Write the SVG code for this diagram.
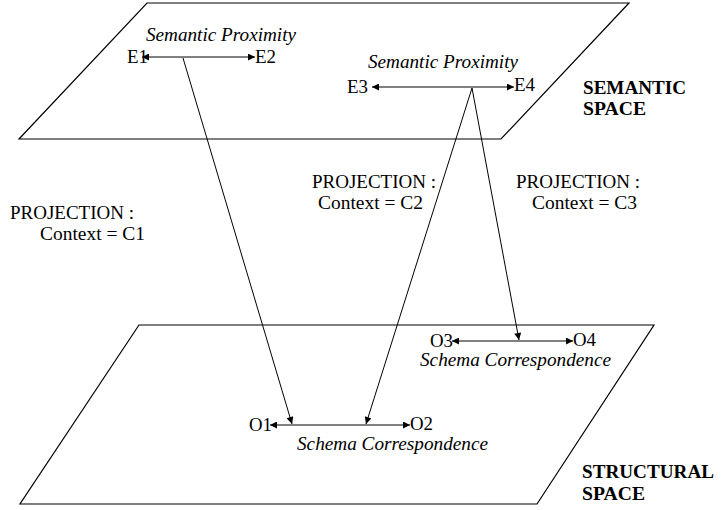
<svg xmlns="http://www.w3.org/2000/svg" width="727" height="510" viewBox="0 0 727 510">
<style>
.plane{fill:none;stroke:#000;stroke-width:1.2}
.ln{fill:none;stroke:#000;stroke-width:1}
text{font-family:"Liberation Serif","DejaVu Serif",serif;font-size:19px;fill:#000}
.i{font-style:italic}
.b{font-weight:bold}
</style>
<defs>
<marker id="ah" viewBox="0 0 10 10" refX="10" refY="5" markerWidth="10" markerHeight="7" markerUnits="userSpaceOnUse" orient="auto-start-reverse">
<path d="M0,0 L10,5 L0,10 z" fill="#000"/>
</marker>
</defs>
<rect width="727" height="510" fill="#fff"/>
<g id="semantic-space">
<polygon class="plane" points="147,3 629,3 501,139 19,139"/>
<text class="b" x="583" y="94" textLength="103" lengthAdjust="spacingAndGlyphs">SEMANTIC</text>
<text class="b" x="583" y="115" textLength="63" lengthAdjust="spacingAndGlyphs">SPACE</text>
</g>
<g id="structural-space">
<polygon class="plane" points="139,325 654,325 537,504 20,504"/>
<text class="b" x="582" y="478" textLength="132" lengthAdjust="spacingAndGlyphs">STRUCTURAL</text>
<text class="b" x="582" y="500" textLength="63" lengthAdjust="spacingAndGlyphs">SPACE</text>
</g>
<g id="e1e2">
<text class="i" x="146" y="41" textLength="150" lengthAdjust="spacingAndGlyphs">Semantic Proximity</text>
<text x="127" y="63" textLength="21" lengthAdjust="spacingAndGlyphs">E1</text>
<text x="255" y="63" textLength="21" lengthAdjust="spacingAndGlyphs">E2</text>
</g>
<g id="e3e4">
<text class="i" x="368" y="68" textLength="150" lengthAdjust="spacingAndGlyphs">Semantic Proximity</text>
<text x="347" y="93" textLength="21" lengthAdjust="spacingAndGlyphs">E3</text>
<text x="514" y="91" textLength="21" lengthAdjust="spacingAndGlyphs">E4</text>
</g>
<g id="o3o4">
<text x="430" y="347" textLength="23" lengthAdjust="spacingAndGlyphs">O3</text>
<text x="573" y="346" textLength="23" lengthAdjust="spacingAndGlyphs">O4</text>
<text class="i" x="420" y="366" textLength="191" lengthAdjust="spacingAndGlyphs">Schema Correspondence</text>
</g>
<g id="o1o2">
<text x="249" y="431" textLength="23" lengthAdjust="spacingAndGlyphs">O1</text>
<text x="410" y="430" textLength="23" lengthAdjust="spacingAndGlyphs">O2</text>
<text class="i" x="297" y="450" textLength="191" lengthAdjust="spacingAndGlyphs">Schema Correspondence</text>
</g>
<g id="labels">
<text x="10" y="219" textLength="124" lengthAdjust="spacingAndGlyphs">PROJECTION :</text>
<text x="40" y="240" textLength="105" lengthAdjust="spacingAndGlyphs">Context = C1</text>
<text x="312" y="188" textLength="124" lengthAdjust="spacingAndGlyphs">PROJECTION :</text>
<text x="318" y="209" textLength="105" lengthAdjust="spacingAndGlyphs">Context = C2</text>
<text x="516" y="188" textLength="124" lengthAdjust="spacingAndGlyphs">PROJECTION :</text>
<text x="532" y="209" textLength="105" lengthAdjust="spacingAndGlyphs">Context = C3</text>
</g>
<g id="connectors">
<line class="ln" x1="142" y1="57" x2="255" y2="57" marker-start="url(#ah)" marker-end="url(#ah)"/>
<line class="ln" x1="372" y1="87" x2="514" y2="87" marker-start="url(#ah)" marker-end="url(#ah)"/>
<line class="ln" x1="452" y1="341" x2="573" y2="341" marker-start="url(#ah)" marker-end="url(#ah)"/>
<line class="ln" x1="270" y1="425" x2="410" y2="425" marker-start="url(#ah)" marker-end="url(#ah)"/>
<line class="ln" x1="183" y1="58" x2="292" y2="424" marker-end="url(#ah)"/>
<line class="ln" x1="472" y1="88" x2="366" y2="424" marker-end="url(#ah)"/>
<line class="ln" x1="472" y1="88" x2="519" y2="340" marker-end="url(#ah)"/>
</g>
</svg>
